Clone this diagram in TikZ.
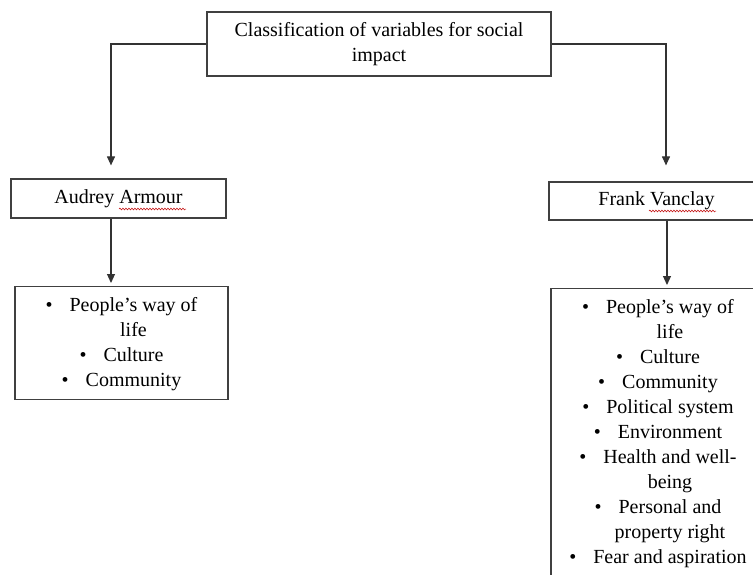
\documentclass[tikz,border=0pt]{standalone}
\usepackage{fontspec}
\setmainfont{Liberation Serif}
\usetikzlibrary{arrows.meta,decorations.pathmorphing}

\tikzset{
  box/.style={draw=black!75, line width=1.2pt, inner sep=0pt, align=center},
  listbox/.style={box, anchor=north, inner ysep=8.5pt},
  link/.style={draw=black!80, line width=1.1pt, -{Triangle[length=9pt,width=8pt]}},
  typo/.style={draw=red!75!black, line width=0.5pt, decorate,
    decoration={snake, amplitude=0.9pt, segment length=3pt}}
}
\newcommand{\itm}{\textbullet\hspace{17pt}}
\newcommand{\cont}{\hspace*{24pt}}
\newcommand{\firstline}{\rule{0pt}{16.5pt}}

\begin{document}
\begin{tikzpicture}[x=1pt, y=-1pt, font=\fontsize{20}{25}\selectfont]
  \useasboundingbox (0,0) rectangle (753,574);
  \node[box, minimum width=344pt, minimum height=64pt] (top) at (379,44)
    {Classification of variables for social\\impact};
  \node[box, minimum width=215pt, minimum height=39pt] (audrey) at (118.5,198.5)
    {Audrey Armour};
  \node[box, minimum width=215pt, minimum height=38pt] (frank) at (656.5,201)
    {Frank Vanclay};
  \node[listbox, minimum width=213pt] (alist) at (121.5,286)
    {\firstline\itm People's way of\\\cont life\\\itm Culture\\\itm Community};
  \node[listbox, minimum width=214pt] (flist) at (658,288)
    {\firstline\itm People's way of\\\cont life\\\itm Culture\\\itm Community\\
     \itm Political system\\\itm Environment\\\itm Health and well-\\
     \cont being\\\itm Personal and\\\cont property right\\
     \itm Fear and aspiration\rule[-24pt]{0pt}{1pt}};
  \draw[link, shorten >=13pt] (top.west) -| ([xshift=-7.5pt]audrey.north);
  \draw[link, shorten >=16pt] (top.east) -| ([xshift=9.5pt]frank.north);
  \draw[link, shorten >=3pt] ([xshift=-7.5pt]audrey.south) -- ([xshift=-10.5pt]alist.north);
  \draw[link, shorten >=3pt] ([xshift=10.5pt]frank.south) -- ([xshift=9pt]flist.north);
  \draw[typo] (119,209) -- (186,209);
  \draw[typo] (649,211) -- (716,211);
\end{tikzpicture}
\end{document}
